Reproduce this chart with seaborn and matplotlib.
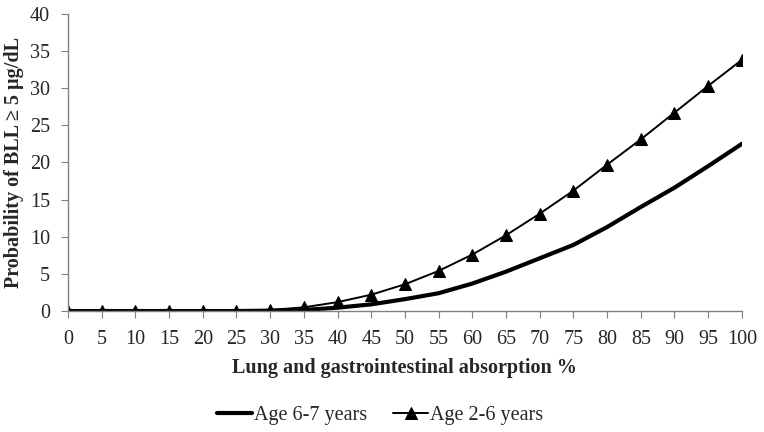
import matplotlib
matplotlib.use('Agg')
import matplotlib.pyplot as plt
import seaborn as sns
import pandas as pd

# Data
absorption = [0, 5, 10, 15, 20, 25, 30, 35, 40, 45, 50, 55, 60, 65, 70, 75, 80, 85, 90, 95, 100]
age_6_7 = [0, 0, 0, 0, 0, 0, 0.05, 0.15, 0.45, 0.9, 1.6, 2.4, 3.7, 5.3, 7.1, 8.9, 11.3, 14.0, 16.6, 19.5, 22.5]
age_2_6 = [0, 0, 0, 0, 0, 0.05, 0.15, 0.5, 1.2, 2.2, 3.6, 5.4, 7.6, 10.2, 13.1, 16.2, 19.7, 23.1, 26.7, 30.3, 33.8]

sns.set_style('white')
plt.rcParams['font.family'] = ['Liberation Serif', 'DejaVu Serif']

df = pd.DataFrame({'x': absorption, 'a': age_6_7, 'b': age_2_6})

fig, ax = plt.subplots(figsize=(7.64, 4.32), dpi=100)
fig.subplots_adjust(left=0.089, right=0.971, top=0.968, bottom=0.28)

sns.lineplot(data=df, x='x', y='a', ax=ax, color='black', linewidth=3.0, label='Age 6-7 years')
sns.lineplot(data=df, x='x', y='b', ax=ax, color='black', linewidth=1.4, marker='^',
             markersize=8, markeredgecolor='black', label='Age 2-6 years')

ax.set_xlim(0, 100)
ax.set_ylim(0, 40)
ax.set_xticks(range(0, 101, 5))
ax.set_yticks(range(0, 41, 5))
ax.tick_params(axis='both', labelsize=14.5, length=5, color='#808080', direction='out',
               bottom=True, left=True)
ax.tick_params(axis='y', pad=8)
ax.tick_params(axis='x', pad=9)
for s in ['top', 'right']:
    ax.spines[s].set_visible(False)
for s in ['left', 'bottom']:
    ax.spines[s].set_color('#808080')
    ax.spines[s].set_linewidth(1.0)

ax.set_xlabel('Lung and gastrointestinal absorption %', fontsize=14.5, fontweight='bold', labelpad=6)
ax.set_ylabel('Probability of BLL ≥ 5 µg/dL', fontsize=14.5, fontweight='bold', labelpad=4)

ax.legend(loc='center', bbox_to_anchor=(0.463, -0.35), ncol=2, frameon=False,
          fontsize=14.5, handlelength=1.75, handletextpad=0.1, columnspacing=1.3)

fig.savefig('out.png', dpi=100)
